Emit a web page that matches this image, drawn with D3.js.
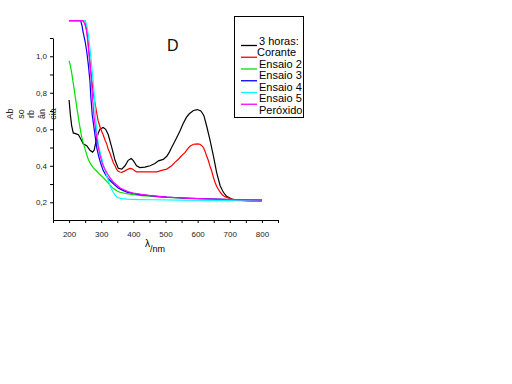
<!DOCTYPE html>
<html>
<head>
<meta charset="utf-8">
<script src="https://cdn.jsdelivr.net/npm/d3@7"></script>
<style>
  body { margin: 0; background: #fff; }
  svg { display: block; font-family: "Liberation Sans", Arial, sans-serif; }
  .axis path, .axis line { stroke: #000; }
  .axis text { font-size: 8px; fill: #222; }
</style>
</head>
<body>
<svg id="chart" width="512" height="384"></svg>
<script>
// wavelength (nm) / absorbance pairs
const preto = [[200,0.76],[204,0.68],[208,0.62],[213,0.58],[222,0.575],[229,0.57],[234,0.555],[244,0.52],[255,0.51],[265,0.485],[273,0.475],[278,0.485],[281,0.51],[286,0.55],[291,0.58],[296,0.60],[306,0.61],[314,0.60],[322,0.57],[333,0.50],[343,0.43],[353,0.386],[364,0.382],[374,0.40],[384,0.43],[393,0.44],[400,0.428],[410,0.40],[420,0.39],[436,0.393],[452,0.40],[467,0.412],[478,0.427],[493,0.435],[504,0.452],[512,0.475],[519,0.50],[528,0.53],[535,0.555],[545,0.59],[555,0.632],[565,0.665],[574,0.685],[587,0.703],[599,0.708],[610,0.70],[616,0.685],[620,0.672],[628,0.618],[638,0.545],[649,0.454],[659,0.364],[670,0.291],[680,0.255],[690,0.233],[706,0.218],[720,0.212],[760,0.208],[800,0.206]];
const vermelho = [[200,1.195],[250,1.195],[253,1.16],[258,1.10],[262,1.03],[266,0.95],[271,0.86],[276,0.79],[281,0.74],[285,0.70],[290,0.65],[296,0.615],[301,0.59],[306,0.57],[312,0.54],[317,0.52],[322,0.49],[327,0.47],[333,0.44],[338,0.415],[343,0.40],[348,0.38],[353,0.37],[358,0.366],[364,0.364],[374,0.372],[384,0.382],[390,0.386],[396,0.383],[402,0.375],[410,0.367],[431,0.367],[473,0.367],[488,0.375],[504,0.382],[519,0.40],[530,0.42],[540,0.436],[550,0.455],[561,0.473],[570,0.495],[576,0.507],[587,0.518],[600,0.52],[607,0.518],[613,0.51],[618,0.50],[623,0.48],[628,0.454],[633,0.43],[638,0.40],[644,0.37],[649,0.337],[654,0.31],[659,0.288],[665,0.27],[670,0.255],[677,0.24],[685,0.231],[695,0.224],[705,0.218],[720,0.213],[760,0.209],[800,0.207]];
const verde = [[200,0.975],[204,0.95],[208,0.91],[215,0.83],[224,0.72],[232,0.63],[239,0.56],[245,0.52],[250,0.49],[255,0.46],[260,0.435],[267,0.41],[275,0.39],[286,0.37],[296,0.352],[306,0.335],[317,0.315],[327,0.295],[338,0.275],[348,0.263],[358,0.255],[380,0.247],[400,0.242],[425,0.237],[452,0.234],[480,0.23],[504,0.227],[540,0.224],[576,0.221],[650,0.217],[720,0.214],[790,0.212]];
const azul = [[200,1.195],[236,1.195],[240,1.17],[244,1.13],[250,1.08],[255,1.026],[260,0.953],[265,0.862],[268,0.772],[272,0.68],[279,0.59],[286,0.50],[291,0.46],[296,0.427],[301,0.40],[306,0.375],[314,0.35],[322,0.33],[333,0.31],[343,0.293],[353,0.278],[364,0.268],[380,0.256],[400,0.248],[425,0.241],[452,0.236],[480,0.231],[504,0.228],[540,0.225],[576,0.222],[650,0.218],[720,0.214],[800,0.212]];
const ciano = [[200,1.195],[250,1.195],[255,1.17],[260,1.117],[265,1.044],[270,0.953],[275,0.862],[279,0.772],[282,0.68],[286,0.59],[291,0.518],[296,0.48],[301,0.446],[306,0.41],[312,0.375],[317,0.345],[322,0.32],[327,0.29],[333,0.27],[338,0.252],[343,0.24],[348,0.23],[353,0.225],[364,0.22],[380,0.217],[420,0.215],[460,0.214],[550,0.212],[650,0.21],[800,0.207]];
const magenta = [[200,1.195],[244,1.195],[250,1.17],[255,1.135],[260,1.044],[265,0.953],[270,0.862],[273,0.772],[277,0.68],[283,0.59],[291,0.50],[296,0.46],[301,0.427],[306,0.40],[312,0.38],[320,0.355],[327,0.335],[338,0.31],[348,0.295],[358,0.28],[369,0.27],[385,0.258],[400,0.25],[425,0.243],[452,0.237],[480,0.232],[504,0.228],[540,0.225],[576,0.222],[650,0.218],[720,0.215],[800,0.213]];

const series = [preto, vermelho, verde, azul, ciano, magenta];
const colors = ["#000000", "#ff0000", "#00e000", "#0000ff", "#00ffff", "#ff00ff"];
const legendLabels = ["3 horas:", "Corante", "Ensaio 2", "Ensaio 3", "Ensaio 4", "Ensaio 5", "Peróxido"];

const xTicks = [150,200,250,300,350,400,450,500,550,600,650,700,750,800,850];
const xLabelled = [200,300,400,500,600,700,800];
const yTicks = [0.2,0.3,0.4,0.5,0.6,0.7,0.8,0.9,1.0,1.1];
const yLabelled = [0.2,0.4,0.6,0.8,1.0];
const yTitleParts = ["Ab", "so", "rb", "ân", "cia"];

const svg = d3.select("#chart");

const x = d3.scaleLinear().domain([150, 850]).range([53, 278]);
const y = d3.scaleLinear().domain([0.103, 1.1]).range([220, 38]);

// axes
svg.append("g")
    .attr("class", "axis")
    .attr("transform", "translate(0,220)")
    .call(d3.axisBottom(x)
        .tickValues(xTicks)
        .tickSize(3)
        .tickSizeOuter(0)
        .tickPadding(8)
        .tickFormat(d => xLabelled.includes(d) ? d : ""));

svg.append("g")
    .attr("class", "axis")
    .attr("transform", "translate(53,0)")
    .call(d3.axisLeft(y)
        .tickValues(yTicks)
        .tickSize(3)
        .tickSizeOuter(0)
        .tickPadding(3)
        .tickFormat(d => yLabelled.some(v => Math.abs(v - d) < 1e-9) ? d3.format(".1f")(d).replace(".", ",") : ""));

// curves
const line = d3.line()
    .x(d => x(d[0]))
    .y(d => y(d[1]));

svg.selectAll(".curve")
    .data(series)
    .join("path")
        .attr("class", "curve")
        .attr("d", line)
        .attr("fill", "none")
        .attr("stroke", (d, i) => colors[i])
        .attr("stroke-width", 1.2);

// axis titles
svg.append("text")
    .attr("x", 145)
    .attr("y", 247)
    .attr("font-size", 10)
    .text("λ");
svg.append("text")
    .attr("x", 150)
    .attr("y", 252)
    .attr("font-size", 9)
    .text("/nm");

svg.selectAll(".ytitle")
    .data(yTitleParts)
    .join("text")
        .attr("class", "ytitle")
        .attr("transform", (d, i) => "translate(" + [13 + i * 10.7, 114] + ") rotate(-90)")
        .attr("text-anchor", "middle")
        .attr("font-size", 9)
        .attr("fill", "#222")
        .text(d => d);

// panel letter
svg.append("text")
    .attr("x", 167)
    .attr("y", 51)
    .attr("font-size", 16)
    .attr("fill", "#111")
    .text("D");

// legend
svg.append("rect")
    .attr("x", 234.5)
    .attr("y", 16.5)
    .attr("width", 69)
    .attr("height", 101)
    .attr("fill", "#fff")
    .attr("stroke", "#000");

svg.selectAll(".leg-line")
    .data(colors)
    .join("line")
        .attr("class", "leg-line")
        .attr("x1", 241)
        .attr("x2", 257)
        .attr("y1", (d, i) => 45.5 + i * 11.75)
        .attr("y2", (d, i) => 45.5 + i * 11.75)
        .attr("stroke", d => d)
        .attr("stroke-width", 1.3);

svg.selectAll(".leg-text")
    .data(legendLabels)
    .join("text")
        .attr("class", "leg-text")
        .attr("x", (d, i) => i == 1 ? 257 : 259)
        .attr("y", (d, i) => 45 + i * 11.45)
        .attr("font-size", 11)
        .text(d => d);
</script>
</body>
</html>
